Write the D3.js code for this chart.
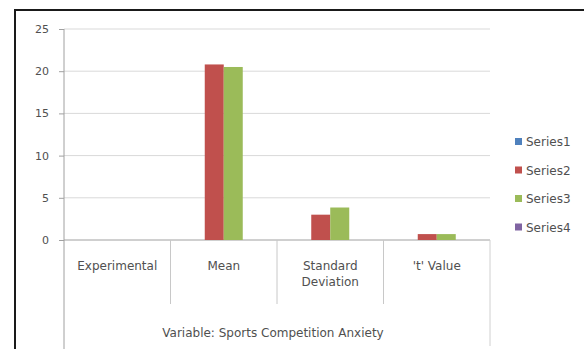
<!DOCTYPE html>
<html>
<head>
<meta charset="utf-8">
<script src="https://cdn.jsdelivr.net/npm/d3@7"></script>
<style>
  body { margin: 0; background: #fff; }
  text { font-family: "DejaVu Sans", "Liberation Sans", sans-serif; fill: #505050; }
</style>
</head>
<body>
<div id="vizcontainer"></div>
<script>
const categories = ['Experimental', 'Mean', 'Standard Deviation', "'t' Value"];
const seriesNames = ['Series1', 'Series2', 'Series3', 'Series4'];
const series1 = [0, 0, 0, 0];
const series2 = [0, 20.8, 3.0, 0.7];
const series3 = [0, 20.5, 3.85, 0.7];
const series4 = [0, 0, 0, 0];
const yTicks = [0, 5, 10, 15, 20, 25];
const groupLabel = 'Variable: Sports Competition Anxiety';
const colors = ['#4f81bd', '#c0504d', '#9bbb59', '#8064a2'];

const width = 584, height = 349;
const seriesData = [series1, series2, series3, series4];

const viz = d3.select('#vizcontainer')
  .append('svg')
  .attr('width', width)
  .attr('height', height);

// chart frame
viz.append('rect')
  .attr('x', 15).attr('y', 10)
  .attr('width', 600).attr('height', 400)
  .attr('fill', '#fff')
  .attr('stroke', '#1a1a1a')
  .attr('stroke-width', 2);

const x = d3.scaleBand()
  .domain(categories)
  .range([64, 490]);

const xs = d3.scaleBand()
  .domain(seriesNames)
  .range([0, 76]);

const y = d3.scaleLinear()
  .domain([0, 25])
  .range([240, 29]);

// gridlines
viz.append('g')
  .selectAll('line')
  .data(yTicks.slice(1))
  .join('line')
  .attr('x1', 64).attr('x2', 490)
  .attr('y1', d => y(d)).attr('y2', d => y(d))
  .attr('stroke', '#d9d9d9')
  .attr('stroke-width', 1);

// y axis
const yAxis = viz.append('g')
  .attr('transform', 'translate(64,0)')
  .call(d3.axisLeft(y).tickValues(yTicks).tickSize(5).tickPadding(10));
yAxis.select('.domain').remove();
yAxis.selectAll('.tick line').attr('stroke', '#a0a0a0');
yAxis.selectAll('.tick text')
  .attr('font-size', 11)
  .attr('font-family', '"DejaVu Sans", sans-serif')
  .attr('fill', '#505050');

// axis lines
viz.append('line')
  .attr('x1', 64).attr('x2', 64).attr('y1', 29).attr('y2', 349)
  .attr('stroke', '#a0a0a0');
viz.append('line')
  .attr('x1', 64).attr('x2', 490).attr('y1', 240).attr('y2', 240)
  .attr('stroke', '#a0a0a0');
viz.append('line')
  .attr('x1', 490).attr('x2', 490).attr('y1', 240).attr('y2', 346)
  .attr('stroke', '#d0d0d0');

// category dividers
viz.append('g')
  .selectAll('line')
  .data(categories.slice(1))
  .join('line')
  .attr('x1', d => x(d)).attr('x2', d => x(d))
  .attr('y1', 240).attr('y2', 304)
  .attr('stroke', '#c8c8c8');

// bars
categories.forEach((c, i) => {
  viz.append('g')
    .selectAll('rect')
    .data(seriesNames)
    .join('rect')
    .attr('x', s => x(c) + (x.bandwidth() - 76) / 2 + xs(s))
    .attr('width', xs.bandwidth())
    .attr('y', (s, j) => y(seriesData[j][i]))
    .attr('height', (s, j) => y(0) - y(seriesData[j][i]))
    .attr('fill', (s, j) => colors[j]);
});

// category labels
const catText = viz.append('g')
  .selectAll('text')
  .data(categories)
  .join('text')
  .attr('x', d => x(d) + x.bandwidth() / 2)
  .attr('y', 270)
  .attr('text-anchor', 'middle')
  .attr('font-size', 12);
catText.each(function (d) {
  const words = d === 'Standard Deviation' ? ['Standard', 'Deviation'] : [d];
  d3.select(this).selectAll('tspan')
    .data(words)
    .join('tspan')
    .attr('x', x(d) + x.bandwidth() / 2)
    .attr('dy', (w, k) => k === 0 ? 0 : 16)
    .text(w => w);
});

viz.append('text')
  .attr('x', 273)
  .attr('y', 337)
  .attr('text-anchor', 'middle')
  .attr('font-size', 12)
  .text(groupLabel);

// legend
const legend = viz.append('g')
  .selectAll('g')
  .data(seriesNames)
  .join('g')
  .attr('transform', (d, i) => `translate(515,${142 + i * 28.5})`);
legend.append('rect')
  .attr('x', 0).attr('y', -4)
  .attr('width', 7).attr('height', 7)
  .attr('fill', (d, i) => colors[i]);
legend.append('text')
  .attr('x', 11).attr('y', 4)
  .attr('font-size', 12)
  .text(d => d);
</script>
</body>
</html>
